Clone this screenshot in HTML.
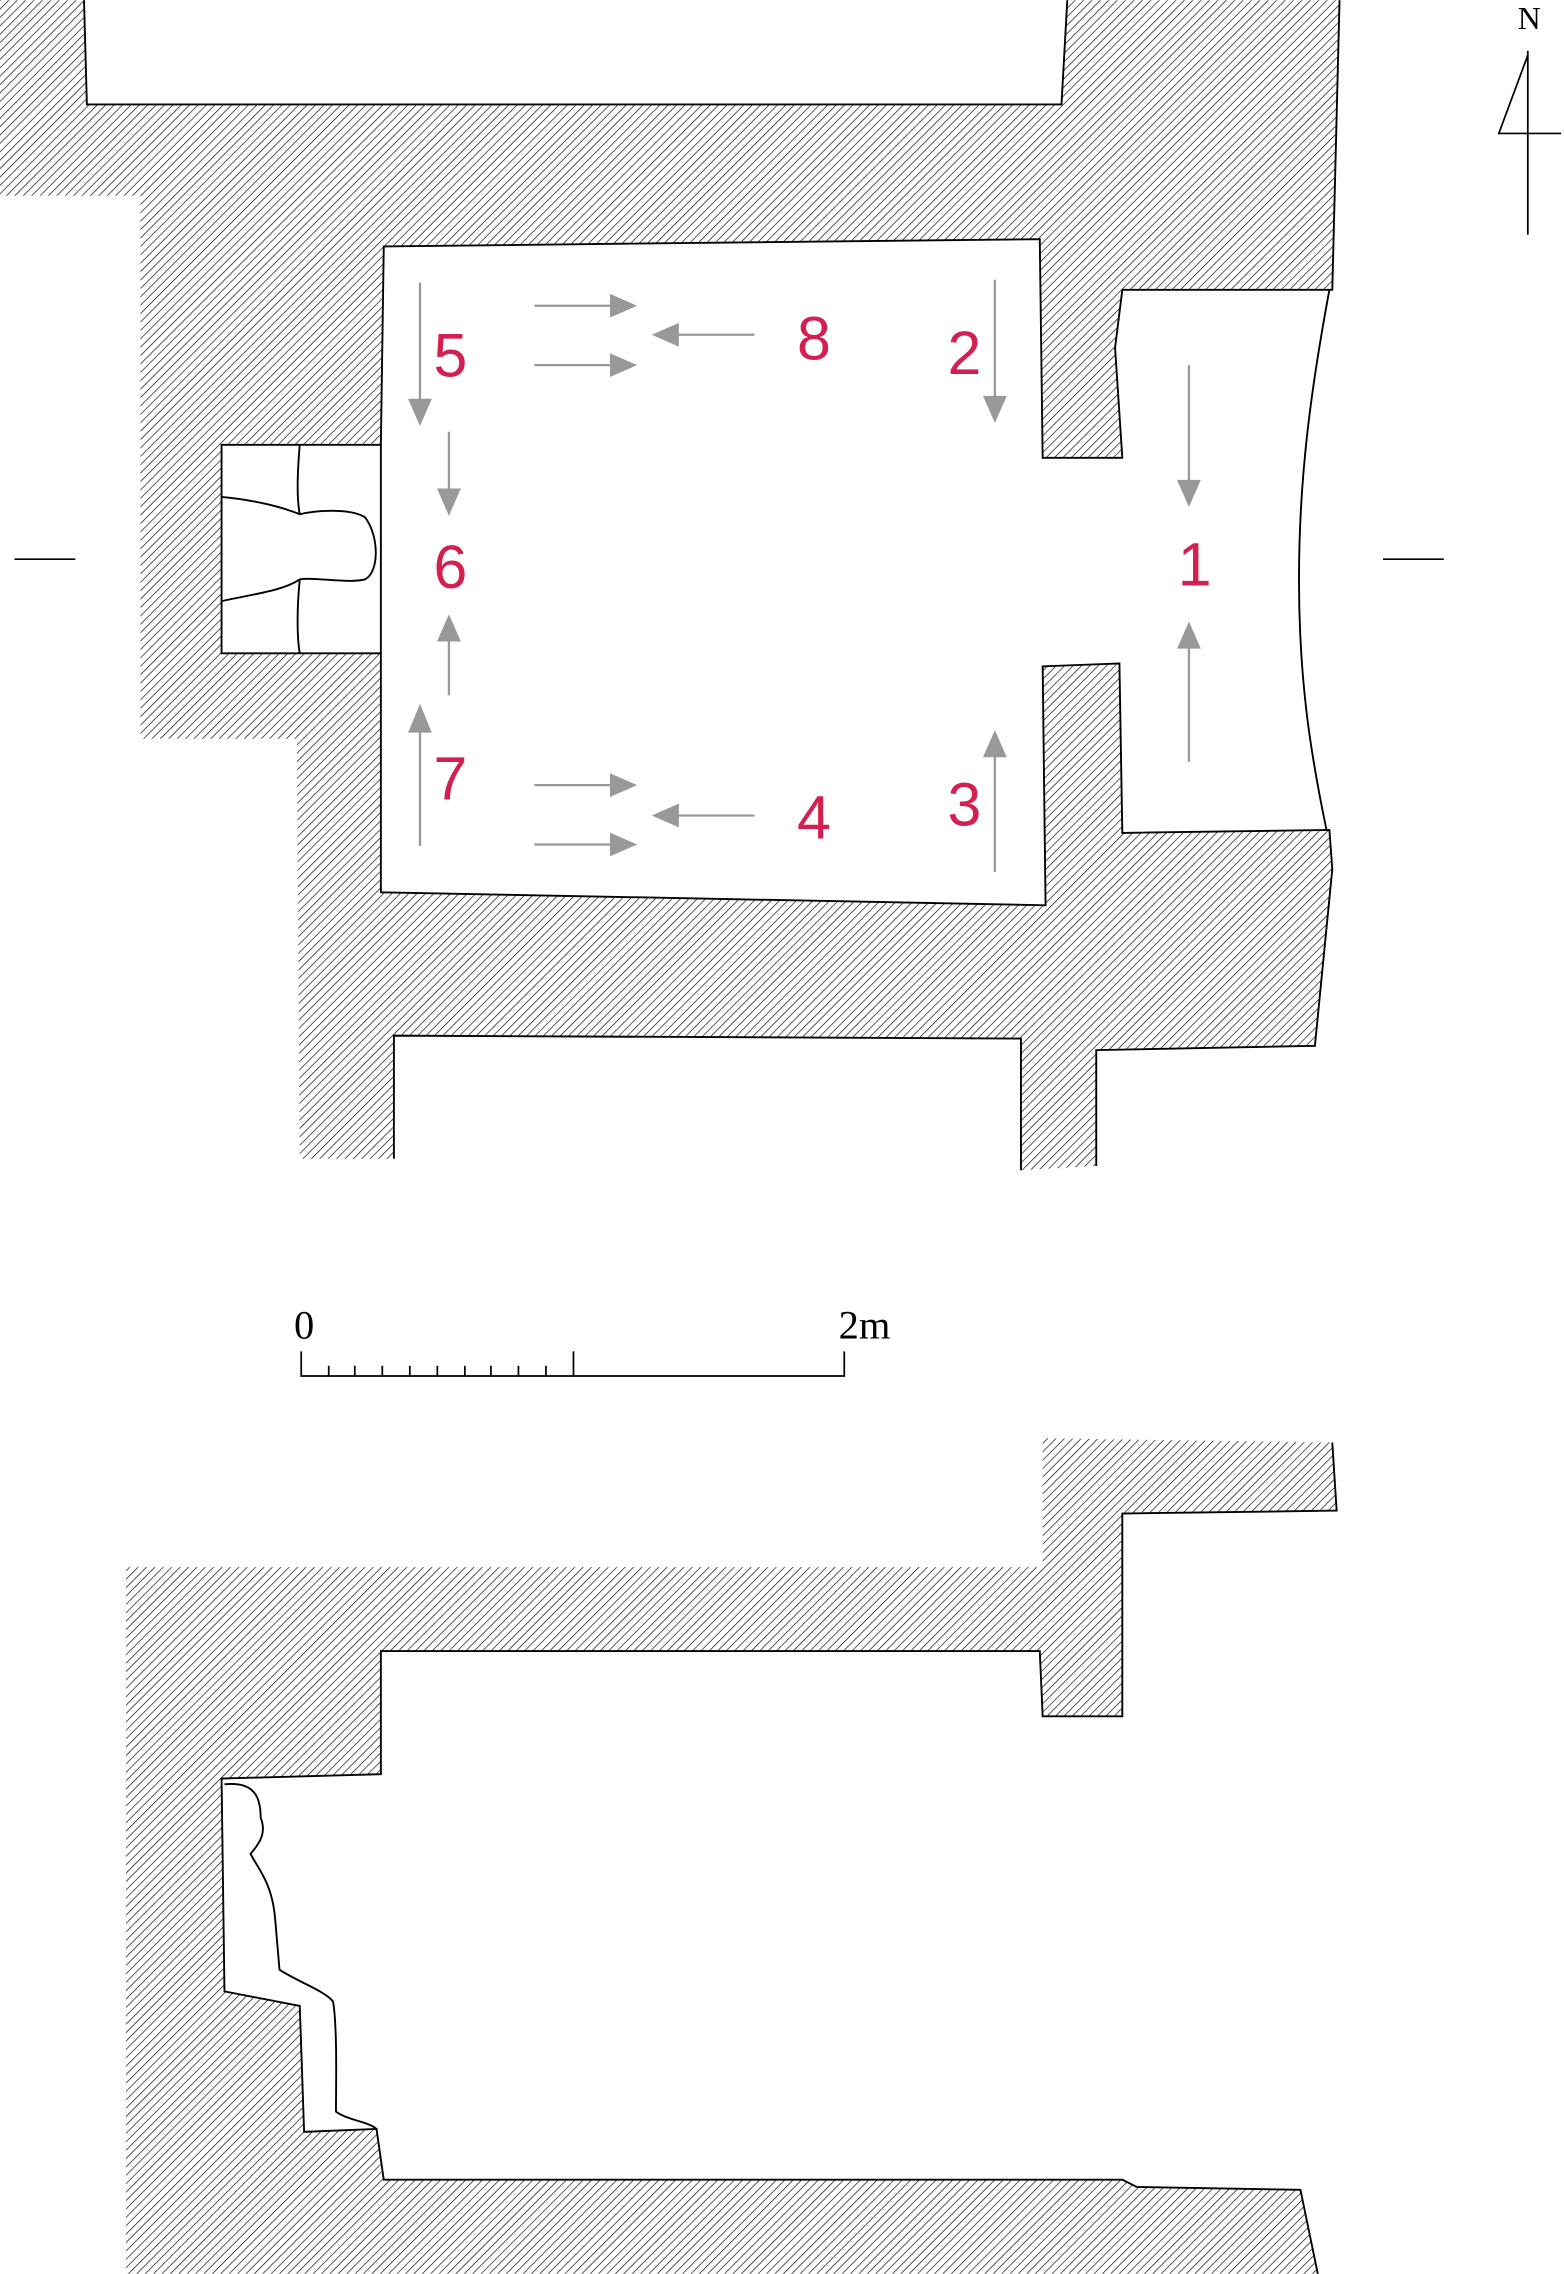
<!DOCTYPE html>
<html><head><meta charset="utf-8"><style>
html,body{margin:0;padding:0;background:#fff;}
svg{display:block;}
</style></head><body>
<svg width="1564" height="2274" viewBox="0 0 1080 1570" xmlns="http://www.w3.org/2000/svg">
<defs>
<pattern id="h" patternUnits="userSpaceOnUse" width="4.1" height="4.1" patternTransform="rotate(45)">
<rect width="4.1" height="4.1" fill="#fff"/>
<line x1="0" y1="0" x2="0" y2="4.1" stroke="#000" stroke-width="0.9"/>
</pattern>
</defs>
<rect width="1080" height="1570" fill="#fff"/>
<path d="M0,0 L58,0 L60,72 L733,72 L737,0 L925,0 L920,200 L775,200 L770,240 L775,316 L720,316 L718,165 L265,170 L263,307 L153,307 L153,451 L263,451 L263,616 L722,625 L720,460 L773,458 L775,575 L918,573 L920,600 L908,722 L757,725 L757,805 L705,808 L705,717 L272,715 L272,800 L207,800 L205,510 L97,510 L97,135 L0,135 Z" fill="url(#h)" stroke="none"/>
<g fill="none" stroke="#000" stroke-width="1.3">
<path d="M58,0 L60,72 L733,72 L737,0"/>
<path d="M925,0 L920,200 L775,200 L770,240 L775,316 L720,316 L718,165 L265,170 L263,307 L153,307 L153,451 L263,451 L263,616 L722,625 L720,460 L773,458 L775,575 L918,573 L920,600 L908,722 L757,725 L757,805"/>
<path d="M705,808 L705,717 L272,715 L272,800"/>
<path d="M263,307 L263,451"/>
<path d="M918,200 C905,270 897,330 897,400 C897,470 905,520 916,573"/>
<path d="M207,307 C205,330 205,345 207,355 M207,400 C205,420 205,440 207,451"/>
<path d="M153,343 C175,345 195,350 207,355 C215,353 240,350 252,357 C262,370 262,395 252,400 C240,403 215,398 207,400 C195,408 175,410 153,415"/>
</g>
<g stroke="#000" stroke-width="1.2">
<line x1="10" y1="386" x2="52" y2="386"/>
<line x1="955" y1="386" x2="997" y2="386"/>
<line x1="1055" y1="35" x2="1055" y2="162"/>
<polyline points="1055,38 1035,92 1078,92" fill="none"/>
</g>
<text x="1056" y="20" font-family="Liberation Serif, serif" font-size="22" text-anchor="middle">N</text>
<g stroke="#999" stroke-width="1.6" fill="#999">
<line x1="290" y1="195" x2="290" y2="278"/><polygon points="283,276 297,276 290,292"/>
<line x1="310" y1="298" x2="310" y2="340"/><polygon points="303,338 317,338 310,354"/>
<line x1="310" y1="480" x2="310" y2="440"/><polygon points="303,442 317,442 310,426"/>
<line x1="290" y1="584" x2="290" y2="503"/><polygon points="283,505 297,505 290,488"/>
<line x1="687" y1="193" x2="687" y2="276"/><polygon points="680,274 694,274 687,290"/>
<line x1="687" y1="602" x2="687" y2="520"/><polygon points="680,522 694,522 687,506"/>
<line x1="821" y1="252" x2="821" y2="334"/><polygon points="814,332 828,332 821,348"/>
<line x1="821" y1="526" x2="821" y2="445"/><polygon points="814,447 828,447 821,431"/>
<line x1="369" y1="211" x2="424" y2="211"/><polygon points="422,204 422,218 438,211"/>
<line x1="369" y1="252" x2="424" y2="252"/><polygon points="422,245 422,259 438,252"/>
<line x1="521" y1="231" x2="466" y2="231"/><polygon points="468,224 468,238 452,231"/>
<line x1="369" y1="542" x2="424" y2="542"/><polygon points="422,535 422,549 438,542"/>
<line x1="369" y1="583" x2="424" y2="583"/><polygon points="422,576 422,590 438,583"/>
<line x1="521" y1="563" x2="466" y2="563"/><polygon points="468,556 468,570 452,563"/>
</g>
<g fill="#d42050" font-family="Liberation Sans, sans-serif" font-size="42" text-anchor="middle">
<text x="311" y="260">5</text>
<text x="311" y="406">6</text>
<text x="311" y="552">7</text>
<text x="562" y="248">8</text>
<text x="562" y="579">4</text>
<text x="666" y="258">2</text>
<text x="666" y="570">3</text>
<text x="825" y="404">1</text>
</g>
<g stroke="#000" stroke-width="1.2" fill="none">
<polyline points="208,933 208,950 583,950 583,933"/>
<line x1="396" y1="933" x2="396" y2="950"/>
<line x1="227" y1="943" x2="227" y2="950"/><line x1="245" y1="943" x2="245" y2="950"/>
<line x1="264" y1="943" x2="264" y2="950"/><line x1="283" y1="943" x2="283" y2="950"/>
<line x1="302" y1="943" x2="302" y2="950"/><line x1="321" y1="943" x2="321" y2="950"/>
<line x1="339" y1="943" x2="339" y2="950"/><line x1="358" y1="943" x2="358" y2="950"/>
<line x1="377" y1="943" x2="377" y2="950"/>
</g>
<text x="210" y="924" font-family="Liberation Serif, serif" font-size="28" text-anchor="middle">0</text>
<text x="597" y="924" font-family="Liberation Serif, serif" font-size="28" text-anchor="middle">2m</text>
<path d="M87,1082 L720,1082 L720,993 L920,996 L923,1043 L775,1045 L775,1185 L720,1185 L718,1140 L263,1140 L263,1225 L153,1228 L155,1375 L207,1385 L210,1472 L260,1470 L265,1505 L775,1505 L785,1510 L898,1512 L910,1570 L87,1570 Z" fill="url(#h)"/>
<g fill="none" stroke="#000" stroke-width="1.3">
<path d="M920,996 L923,1043 L775,1045 L775,1185 L720,1185 L718,1140 L263,1140 L263,1225 L153,1228 L155,1375 L207,1385 L210,1472 L260,1470 L265,1505 L775,1505 L785,1510 L898,1512 L910,1570"/>
<path d="M155,1232 C175,1230 180,1240 180,1255 C184,1265 180,1272 173,1280 C178,1290 188,1300 190,1325 L193,1360 C205,1368 225,1375 230,1382 C233,1400 232,1440 232,1458 C240,1464 255,1465 260,1470"/>
</g>
</svg>
</body></html>
